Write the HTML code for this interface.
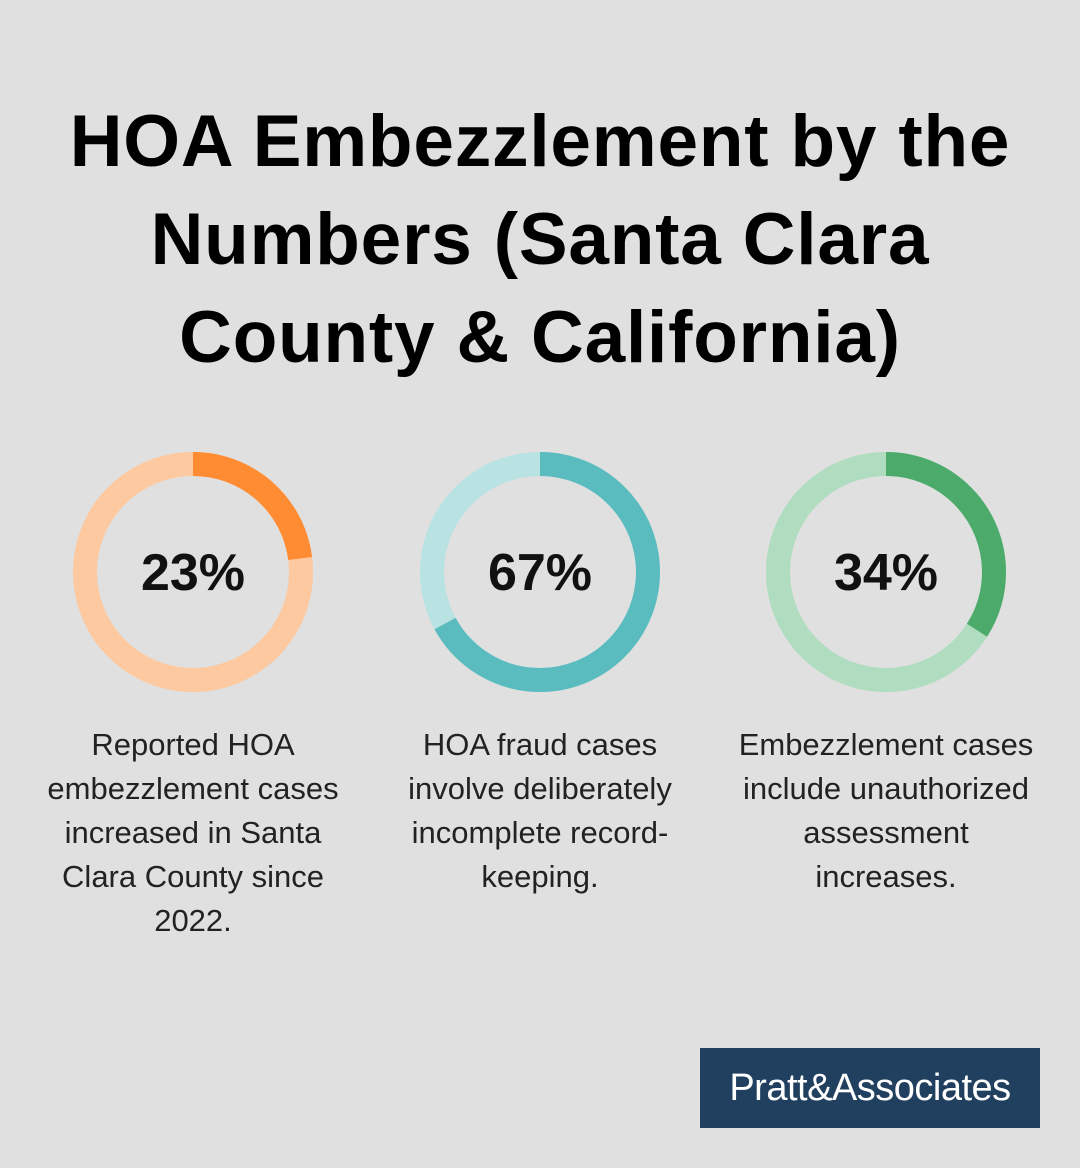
<!DOCTYPE html>
<html><head><meta charset="utf-8"><style>
html,body{margin:0;padding:0}
body{width:1080px;height:1168px;background:#dfe0df;position:relative;overflow:hidden;font-family:"Liberation Sans",sans-serif}
h1{position:absolute;top:93px;left:0;width:1080px;margin:0;text-align:center;font-size:73px;line-height:98px;font-weight:bold;color:#000;letter-spacing:0.8px}
.cap{position:absolute;top:723px;width:360px;text-align:center;font-size:31px;line-height:44px;color:#222;white-space:nowrap}
.logo{position:absolute;left:700px;top:1048px;width:340px;height:80px;background:#21405f;color:#fff;font-size:38px;line-height:80px;text-align:center;letter-spacing:-0.5px}
</style></head><body>
<h1>HOA Embezzlement by the<br>Numbers (Santa Clara<br>County &amp; California)</h1>
<svg width="1080" height="1168" style="position:absolute;left:0;top:0">
<g fill="none" stroke-width="24">
<circle cx="193" cy="572" r="108" stroke="#fdc9a0"/>
<circle cx="193" cy="572" r="108" stroke="#ff8c33" stroke-dasharray="156 600" transform="rotate(-90 193 572)"/>
<circle cx="540" cy="572" r="108" stroke="#b9e2e3"/>
<circle cx="540" cy="572" r="108" stroke="#5bbcc0" stroke-dasharray="455 600" transform="rotate(-90 540 572)"/>
<circle cx="886" cy="572" r="108" stroke="#b0dcc0"/>
<circle cx="886" cy="572" r="108" stroke="#4caa6b" stroke-dasharray="231 600" transform="rotate(-90 886 572)"/>
</g>
<g font-family="Liberation Sans, sans-serif" font-size="52" font-weight="bold" text-anchor="middle" fill="#111">
<text x="193" y="590">23%</text><text x="540" y="590">67%</text><text x="886" y="590">34%</text>
</g>
</svg>
<div class="cap" style="left:13px">Reported HOA<br>embezzlement cases<br>increased in Santa<br>Clara County since<br>2022.</div>
<div class="cap" style="left:360px">HOA fraud cases<br>involve deliberately<br>incomplete record-<br>keeping.</div>
<div class="cap" style="left:706px">Embezzlement cases<br>include unauthorized<br>assessment<br>increases.</div>
<div class="logo">Pratt&amp;Associates</div>
</body></html>
